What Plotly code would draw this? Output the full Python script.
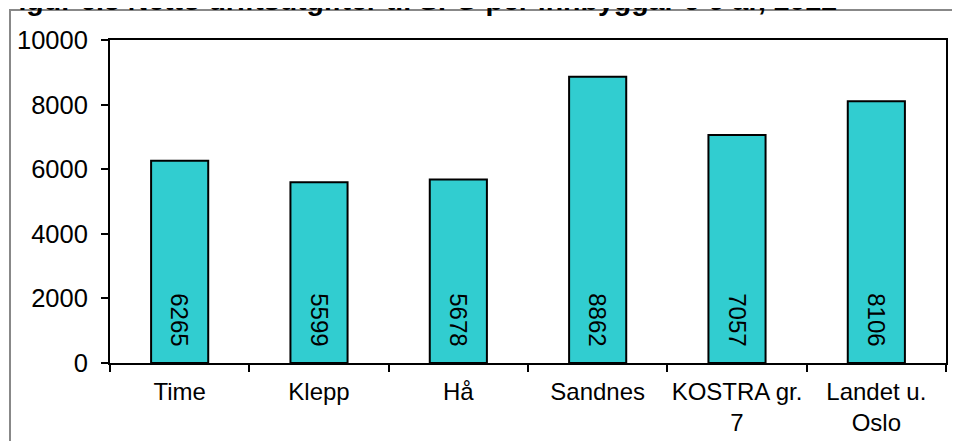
import plotly.graph_objects as go

# data
kommunar = ["Time", "Klepp", "Hå", "Sandnes", "KOSTRA gr.<br>7", "Landet u.<br>Oslo"]
utgifter = [6265, 5599, 5678, 8862, 7057, 8106]
y_ticks = [0, 2000, 4000, 6000, 8000, 10000]

tittel = "Figur 6.5 Netto driftsutgifter til SFO per innbyggar 6-9 år, 2022"

font = "Arial, Liberation Sans, sans-serif"

# the page body adds an 8px margin, so the figure sits 8px right and down
OFF = 8
W, H = 960, 441
# plot area in screen pixels: x 110..946, y 40..363
L, T = 110 - OFF, 40 - OFF
R, B = W - (946 - OFF), H - (363 - OFF)
pw, ph = W - L - R, H - T - B


def px_x(sx):
    return (sx - OFF - L) / pw


def px_y(sy):
    return 1 - (sy - OFF - T) / ph


fig = go.Figure()
fig.add_trace(
    go.Bar(
        x=kommunar,
        y=utgifter,
        # nbsp padding keeps the rotated label off the baseline, like Excel does
        text=[str(v) + "\u00a0\u00a0" for v in utgifter],
        textposition="inside",
        insidetextanchor="start",
        textangle=90,
        textfont=dict(family=font, size=24, color="black"),
        marker=dict(color="#31CDD0", line=dict(color="black", width=2)),
        showlegend=False,
    )
)

fig.update_layout(
    width=W,
    height=H,
    margin=dict(l=L, r=R, t=T, b=B),
    paper_bgcolor="white",
    plot_bgcolor="white",
    bargap=0.59,
    font=dict(family=font, size=24, color="black"),
    xaxis=dict(
        tickson="boundaries",
        tickangle=0,
        ticks="outside",
        ticklen=7,
        tickwidth=2,
        tickcolor="black",
        ticklabelstandoff=6,
        showline=True,
        linecolor="black",
        linewidth=2,
        mirror=True,
        showgrid=False,
        automargin=False,
        tickfont=dict(size=24),
    ),
    yaxis=dict(
        range=[0, 10000],
        tickvals=y_ticks,
        ticktext=[str(v) for v in y_ticks],
        ticks="outside",
        ticklen=7,
        tickwidth=2,
        tickcolor="black",
        ticklabelstandoff=8,
        showline=True,
        linecolor="black",
        linewidth=2,
        mirror=True,
        showgrid=False,
        zeroline=False,
        automargin=False,
        tickfont=dict(size=25.5),
    ),
)

# title, cut off at the top edge like in the original
fig.add_annotation(
    text="<b>" + tittel + "</b>",
    xref="paper",
    yref="paper",
    x=px_x(1),
    y=px_y(0),
    xanchor="left",
    yanchor="middle",
    xshift=-2,
    showarrow=False,
    font=dict(family=font, size=28.5, color="black"),
)

# grey outer frame
fig.add_shape(
    type="rect",
    xref="paper",
    yref="paper",
    x0=px_x(10),
    x1=px_x(1000),
    y0=px_y(500),
    y1=px_y(10),
    line=dict(color="#888888", width=2),
    layer="below",
)

fig.write_html("out.html")
